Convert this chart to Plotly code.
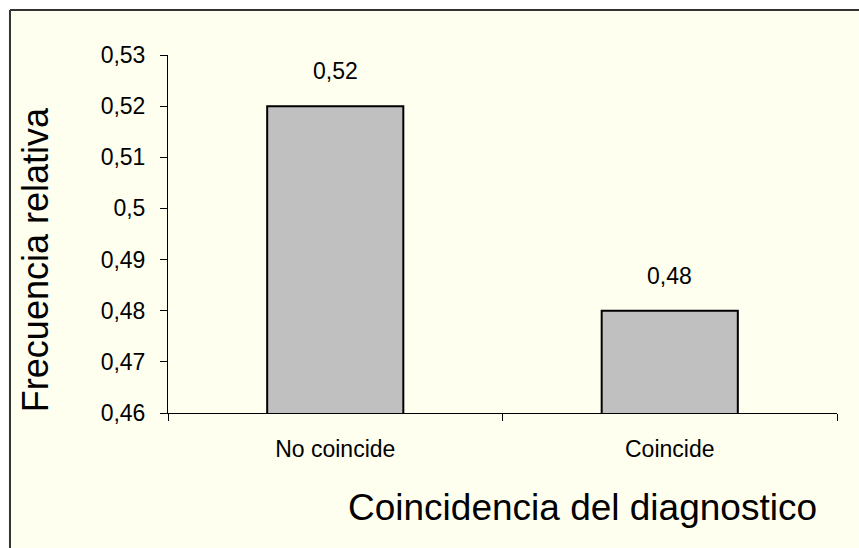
import plotly.graph_objects as go

categorias = ["No coincide", "Coincide"]
frecuencias = [0.52, 0.48]
y_ticks = [0.46, 0.47, 0.48, 0.49, 0.50, 0.51, 0.52, 0.53]
y_tick_labels = ["0,46", "0,47", "0,48", "0,49", "0,5", "0,51", "0,52", "0,53"]

FONT = "Liberation Sans, Arial, sans-serif"
IVORY = "#FFFFF0"


def etiqueta(v):
  return f"{v:.2f}".replace(".", ",")


def main():
  fig = go.Figure()
  fig.add_trace(go.Bar(
    x=categorias,
    y=frecuencias,
    marker=dict(color="#C0C0C0", line=dict(color="black", width=2)),
    showlegend=False,
    hoverinfo="skip"))

  # value labels above the bars
  annotations = [
    dict(x=c, y=v, xref="x", yref="y", text=etiqueta(v), showarrow=False,
         yshift=35, font=dict(size=23, color="black", family=FONT))
    for c, v in zip(categorias, frecuencias)
  ]
  annotations.append(dict(
    x=-0.1988, y=0.427, xref="paper", yref="paper", text="Frecuencia relativa",
    textangle=-90, showarrow=False, xanchor="center", yanchor="middle",
    font=dict(size=36, color="black", family=FONT)))
  annotations.append(dict(
    x=0.619, y=-0.2626, xref="paper", yref="paper",
    text="Coincidencia del diagnostico", showarrow=False,
    xanchor="center", yanchor="middle",
    font=dict(size=37, color="black", family=FONT)))

  # chart-area box: filled background, border only on top and left (cropped)
  x_left, x_right = -0.2362, 1.5
  y_top, y_bottom = 1.1257, -0.6
  shapes = [
    dict(type="rect", xref="paper", yref="paper",
         x0=x_left, x1=x_right, y0=y_bottom, y1=y_top,
         fillcolor=IVORY, line=dict(width=0), layer="below"),
    dict(type="line", xref="paper", yref="paper",
         x0=x_left, x1=x_right, y0=y_top, y1=y_top,
         line=dict(color="#333333", width=2), layer="below"),
    dict(type="line", xref="paper", yref="paper",
         x0=x_left, x1=x_left, y0=y_bottom, y1=y_top,
         line=dict(color="#333333", width=2), layer="below"),
  ]

  fig.update_layout(
    width=859, height=548,
    margin=dict(l=168, r=22, t=55, b=135),
    paper_bgcolor="white",
    plot_bgcolor="rgba(0,0,0,0)",
    bargap=0.593,
    font=dict(family=FONT, color="black"),
    annotations=annotations,
    shapes=shapes,
  )
  fig.update_yaxes(
    range=[0.46, 0.53], tickvals=y_ticks, ticktext=y_tick_labels,
    showgrid=False, zeroline=False,
    showline=True, linecolor="black", linewidth=1,
    ticks="outside", ticklen=7, tickcolor="black", tickwidth=1,
    ticklabelstandoff=10,
    tickfont=dict(size=23, color="black", family=FONT))
  fig.update_xaxes(
    showgrid=False, showline=True, linecolor="black", linewidth=1,
    ticks="outside", tickson="boundaries", ticklen=7, tickcolor="black",
    tickwidth=1, ticklabelstandoff=15,
    tickfont=dict(size=23, color="black", family=FONT))

  # figure is exactly the window size, so drop the page margin
  fig.write_html("out.html", config={"displayModeBar": False},
                 post_script="document.body.style.margin='0';")


if __name__ == "__main__":
  main()
